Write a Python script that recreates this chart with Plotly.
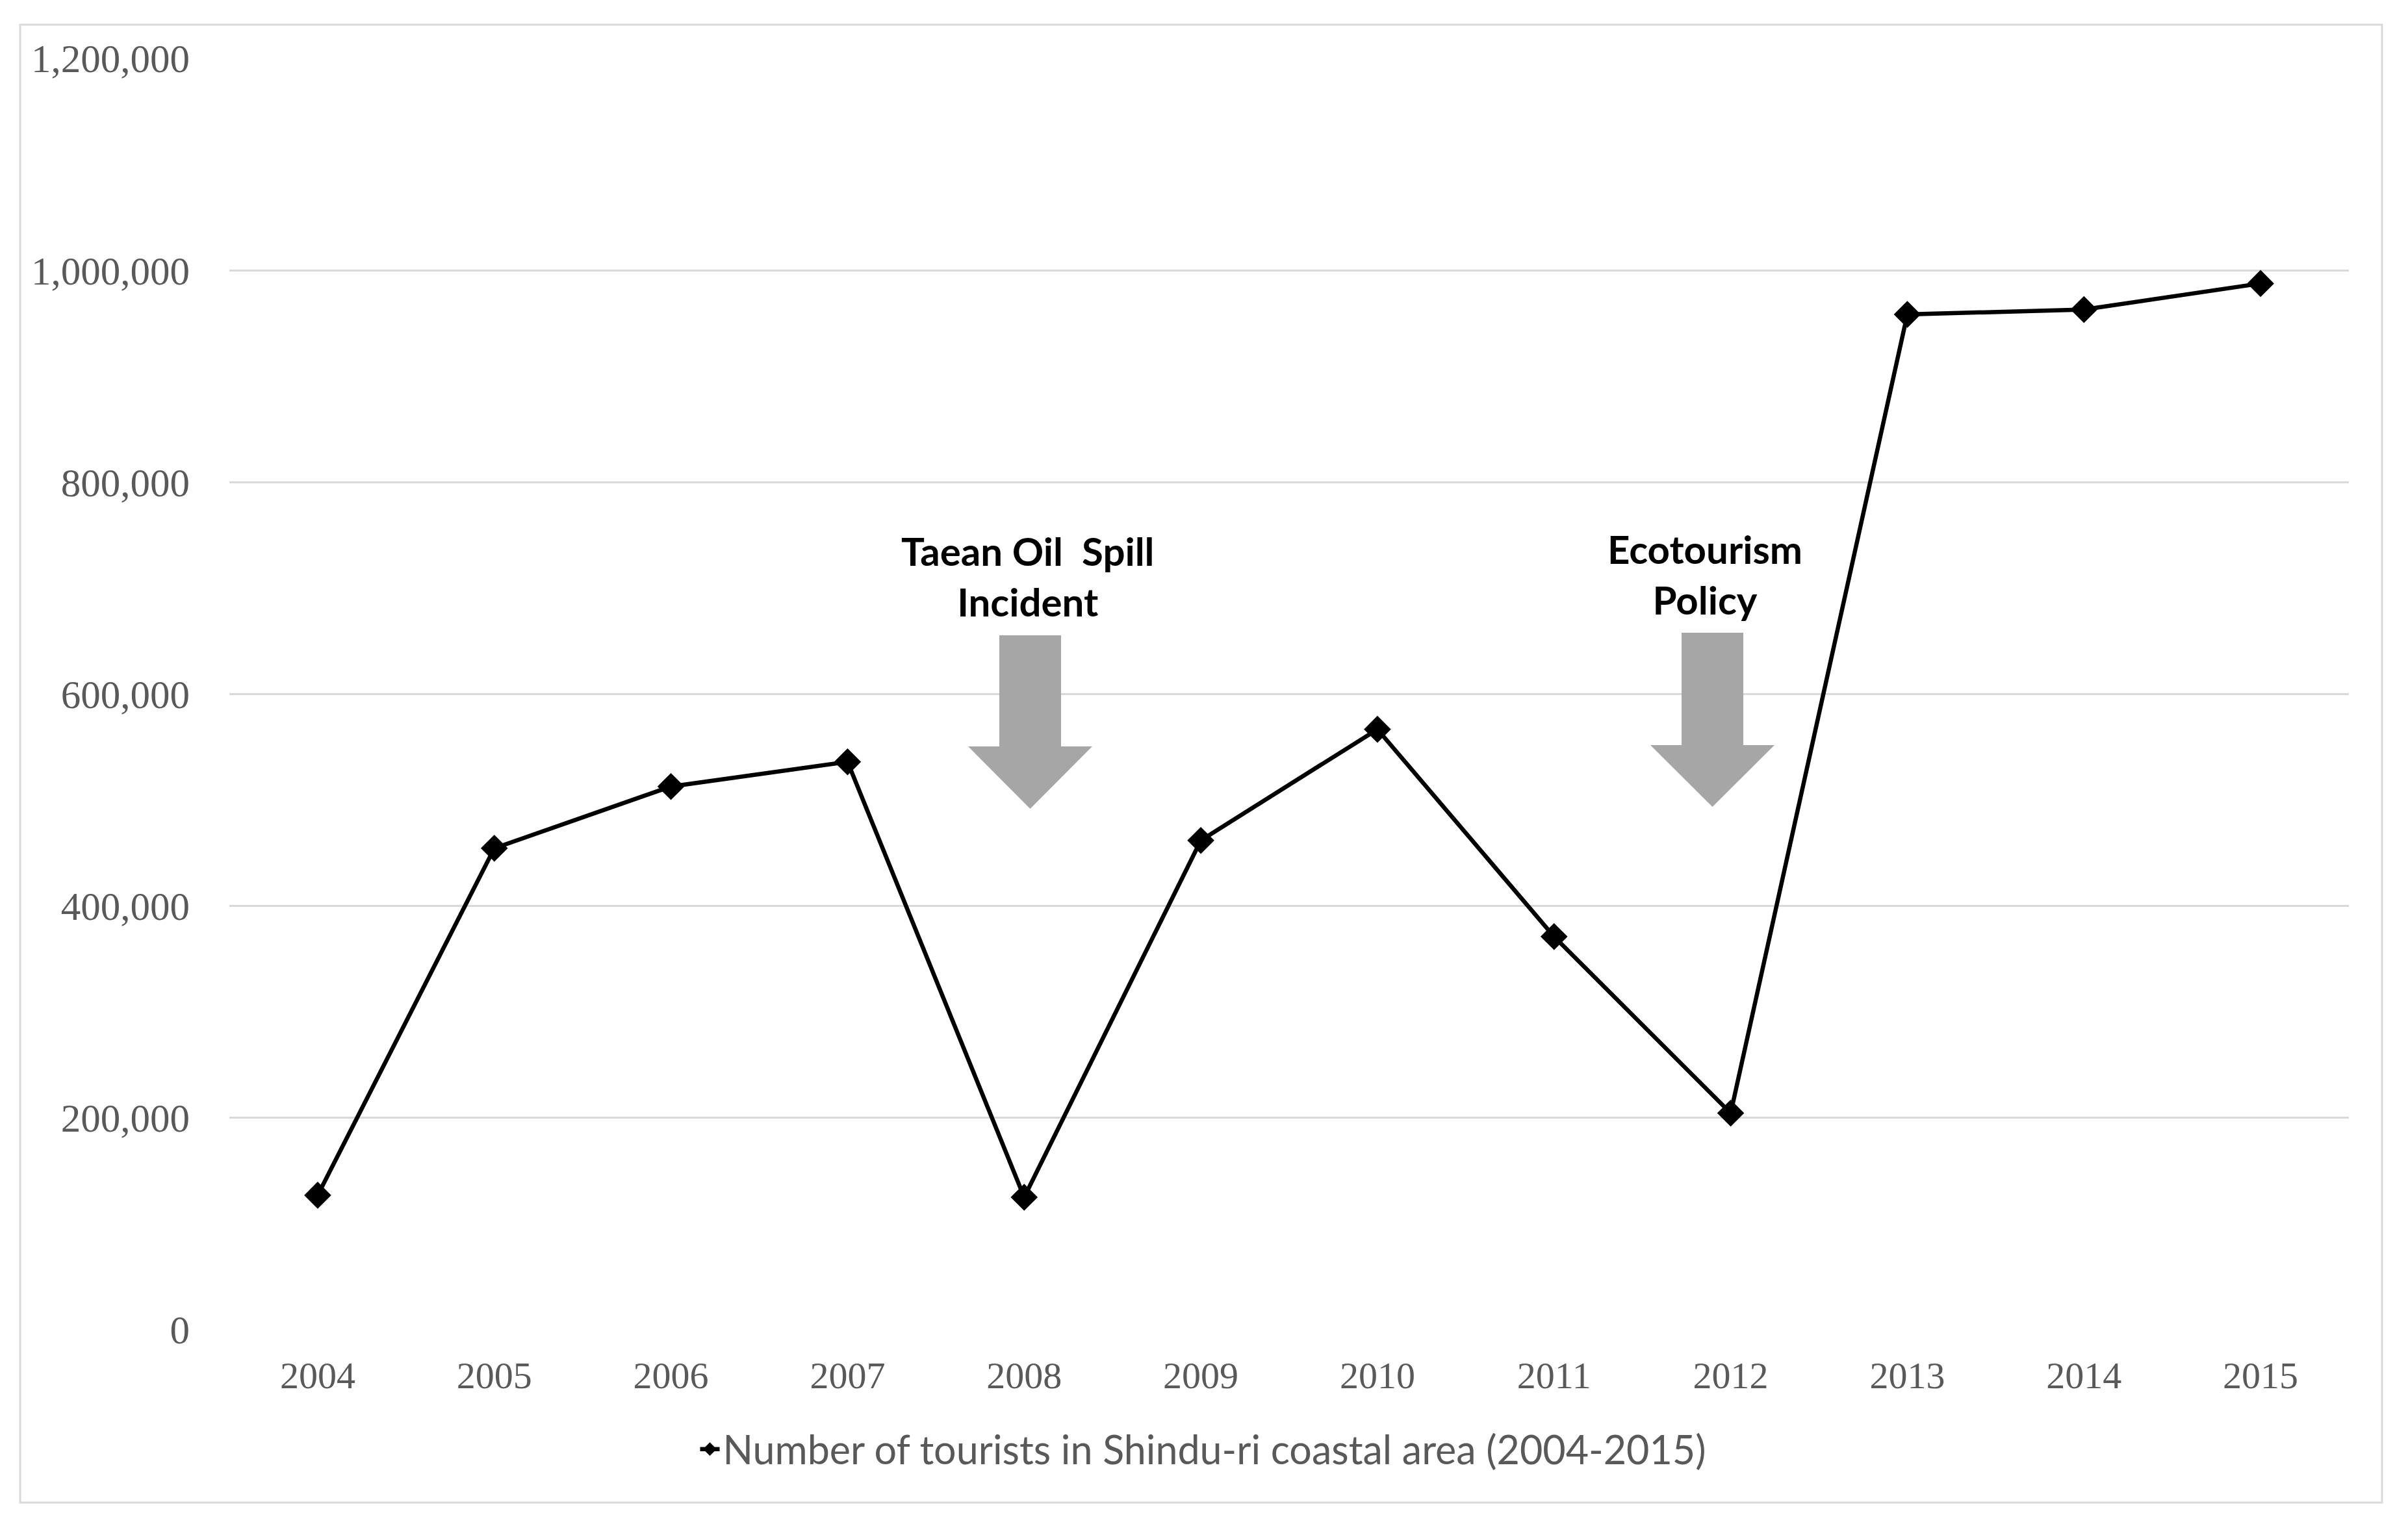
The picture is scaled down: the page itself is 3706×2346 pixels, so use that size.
import plotly.graph_objects as go

# ---- data ----
years = ["2004", "2005", "2006", "2007", "2008", "2009",
         "2010", "2011", "2012", "2013", "2014", "2015"]
tourists = [127000, 454500, 512800, 536100, 125100, 461900,
            566800, 371100, 204500, 958400, 963000, 987600]
series_name = "Number of tourists in Shindu-ri coastal area (2004-2015)"
y_ticks = [0, 200000, 400000, 600000, 800000, 1000000, 1200000]
y_tick_labels = ["0", "200,000", "400,000", "600,000", "800,000", "1,000,000", "1,200,000"]
event_labels = ["Taean Oil  Spill<br>Incident", "Ecotourism<br>Policy"]

# ---- layout geometry (screen pixels; page body has an 8px margin) ----
OFF = 8
W, H = 3706 - 2 * OFF, 2346 - 2 * OFF
L, R, T, B = 353 - OFF, 3615 - OFF, 90 - OFF, 2047 - OFF  # plot area edges (figure px)


def px_x(p):
    return (p - OFF - L) / (R - L)


def px_y(p):
    return (B - (p - OFF)) / (B - T)


fig = go.Figure()
fig.add_trace(go.Scatter(
    x=years, y=tourists, mode="lines+markers", name=series_name,
    line=dict(color="#000000", width=6.5),
    marker=dict(symbol="diamond", size=32, color="#000000"),
))

shapes = []
# outer border
shapes.append(dict(type="rect", xref="paper", yref="paper",
                   x0=px_x(31), x1=px_x(3666), y0=px_y(2313), y1=px_y(38),
                   line=dict(color="#d9d9d9", width=3), fillcolor="rgba(0,0,0,0)",
                   layer="below"))


def arrow_path(cx, shaft_half, wing_half, top, head, tip):
    pts = [(cx - shaft_half, top), (cx + shaft_half, top), (cx + shaft_half, head),
           (cx + wing_half, head), (cx, tip), (cx - wing_half, head),
           (cx - shaft_half, head)]
    return "M " + " L ".join(f"{px_x(a):.5f},{px_y(b):.5f}" for a, b in pts) + " Z"


for cx, top, head, tip in [(1585.5, 978, 1149, 1245), (2635.5, 974, 1147, 1242)]:
    shapes.append(dict(type="path", xref="paper", yref="paper",
                       path=arrow_path(cx, 47.5, 95.5, top, head, tip),
                       fillcolor="#a6a6a6", line=dict(width=0), layer="above"))

annotations = []
for lbl, cx, cy in [(event_labels[0], 1582, 887), (event_labels[1], 2624, 884)]:
    annotations.append(dict(text=f"<b>{lbl}</b>", xref="paper", yref="paper",
                            x=px_x(cx), y=px_y(cy), xanchor="center", yanchor="middle",
                            showarrow=False, align="center",
                            font=dict(family="Lato", size=60, color="#000000")))

fig.update_layout(
    width=W, height=H,
    margin=dict(l=L, r=W - R, t=T, b=H - B, pad=0),
    paper_bgcolor="white", plot_bgcolor="white",
    shapes=shapes, annotations=annotations,
    showlegend=True,
    legend=dict(orientation="h", x=px_x(1852), y=px_y(2231),
                xanchor="center", yanchor="middle",
                font=dict(family="Lato", size=61, color="#595959"),
                bgcolor="rgba(0,0,0,0)"),
    xaxis=dict(type="category", range=[-0.5, 11.5], showgrid=False,
               showline=False, zeroline=False, ticks="",
               tickfont=dict(family="Liberation Serif", size=58, color="#595959"),
               ticklabelstandoff=31),
    yaxis=dict(range=[0, 1200000], tickvals=y_ticks, ticktext=y_tick_labels,
               showgrid=True, gridcolor="#d9d9d9", gridwidth=3,
               showline=False, zeroline=False, ticks="",
               tickfont=dict(family="Liberation Serif", size=61, color="#595959"),
               ticklabelstandoff=60),
)

fig.write_html("out.html")
